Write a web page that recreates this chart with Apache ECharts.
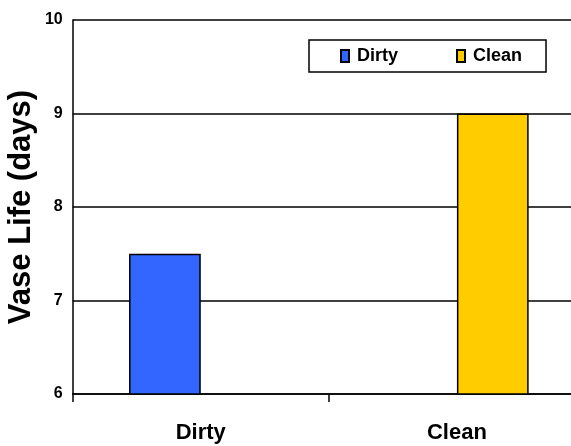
<!DOCTYPE html>
<html>
<head>
<meta charset="utf-8">
<script src="https://cdn.jsdelivr.net/npm/echarts@6/dist/echarts.min.js"></script>
<style>
html,body{margin:0;padding:0;background:#fff;}
#chart{width:571px;height:446px;}
</style>
</head>
<body>
<div id="chart"></div>
<script>
var categories = ['Dirty', 'Clean'];
var dirtyValues = [7.5, '-'];
var cleanValues = ['-', 9];
var seriesNames = ['Dirty', 'Clean'];
var yMin = 6, yMax = 10, yInterval = 1;

var FONT = '"Liberation Sans", Arial, sans-serif';
var chart = echarts.init(document.getElementById('chart'), null, {renderer: 'canvas'});
chart.setOption({
  animation: false,
  backgroundColor: '#ffffff',
  grid: {left: 72.7, top: 20, bottom: 52, right: -14, containLabel: false, outerBoundsMode: 'none'},
  legend: {
    left: 309, top: 40,
    padding: [7, 24, 7, 31],
    backgroundColor: '#ffffff',
    borderColor: '#000000', borderWidth: 1.5,
    itemWidth: 8, itemHeight: 12, itemGap: 58,
    icon: 'rect',
    textStyle: {fontFamily: FONT, fontWeight: 'bold', fontSize: 18, color: '#000', padding: [0, 0, 0, 3]},
    data: seriesNames
  },
  xAxis: {
    type: 'category',
    data: categories,
    axisLine: {lineStyle: {color: '#000', width: 1.5}},
    axisTick: {show: true, length: 8, lineStyle: {color: '#000', width: 1.5}},
    axisLabel: {fontFamily: FONT, fontWeight: 'bold', fontSize: 22, color: '#000', margin: 28}
  },
  yAxis: {
    type: 'value',
    min: yMin, max: yMax, interval: yInterval,
    name: 'Vase Life (days)',
    nameLocation: 'middle',
    nameRotate: 90,
    nameGap: 36,
    nameMoveOverlap: false,
    nameTextStyle: {fontFamily: FONT, fontWeight: 'bold', fontSize: 31, color: '#000'},
    axisLine: {show: true, lineStyle: {color: '#000', width: 1.5}},
    axisTick: {show: false},
    axisLabel: {fontFamily: FONT, fontWeight: 'bold', fontSize: 16, color: '#000', margin: 10},
    splitLine: {show: true, lineStyle: {color: '#000', width: 1.5}}
  },
  series: [
    {
      name: seriesNames[0], type: 'bar', data: dirtyValues,
      barGap: '0%', barCategoryGap: '44%',
      itemStyle: {color: '#3366FF', borderColor: '#000', borderWidth: 1.5}
    },
    {
      name: seriesNames[1], type: 'bar', data: cleanValues,
      barGap: '0%', barCategoryGap: '44%',
      itemStyle: {color: '#FFCC00', borderColor: '#000', borderWidth: 1.5}
    }
  ]
});
</script>
</body>
</html>
